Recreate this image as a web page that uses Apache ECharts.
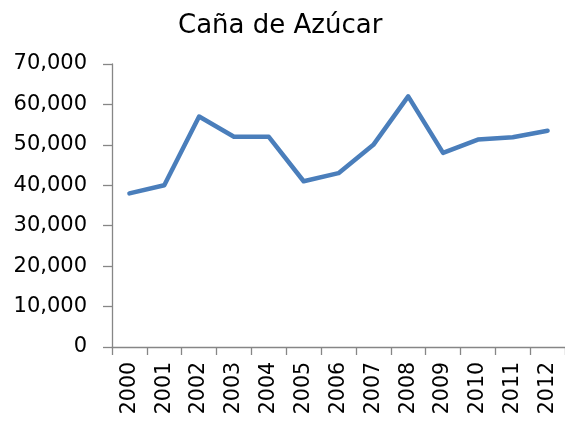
<!DOCTYPE html>
<html>
<head>
<meta charset="utf-8">
<script src="https://cdn.jsdelivr.net/npm/echarts@6/dist/echarts.min.js"></script>
<style>html,body{margin:0;padding:0;background:#fff}#c{width:565px;height:421px}</style>
</head>
<body>
<div id="c"></div>
<script>
const titleText = "Caña de Azúcar";
const years = ["2000","2001","2002","2003","2004","2005","2006","2007","2008","2009","2010","2011","2012"];
const values = [38000, 40000, 57000, 52000, 52000, 41000, 43000, 50000, 62000, 48000, 51300, 51900, 53500];
const yMin = 0, yMax = 70000, yStep = 10000;

const chart = echarts.init(document.getElementById('c'), null, {renderer: 'canvas'});
const font = 'DejaVu Sans';
chart.setOption({
  animation: false,
  backgroundColor: '#ffffff',
  title: {
    text: titleText,
    left: 173, top: 8,
    textStyle: {fontFamily: font, fontSize: 26, fontWeight: 'normal', color: '#000'}
  },
  grid: {left: 112, top: 64, right: -2, bottom: 74},
  xAxis: {
    type: 'category',
    data: years,
    boundaryGap: true,
    axisLine: {lineStyle: {color: '#868686', width: 1.3}},
    axisTick: {show: true, length: 8, lineStyle: {color: '#868686', width: 1.3}},
    axisLabel: {rotate: 90, margin: 15, interval: 0, fontFamily: font, fontSize: 20.5, color: '#000'},
    splitLine: {show: false}
  },
  yAxis: {
    type: 'value',
    min: yMin, max: yMax, interval: yStep,
    axisLine: {show: true, lineStyle: {color: '#868686', width: 1.3}},
    axisTick: {show: true, length: 9, lineStyle: {color: '#868686', width: 1.3}},
    axisLabel: {margin: 25, fontFamily: font, fontSize: 21, color: '#000',
      formatter: v => v.toLocaleString('en-US')},
    splitLine: {show: false}
  },
  series: [{
    type: 'line',
    data: values,
    symbol: 'none',
    lineStyle: {color: '#4a7ebb', width: 4.5, join: 'round', cap: 'round'}
  }]
});
</script>
</body>
</html>
